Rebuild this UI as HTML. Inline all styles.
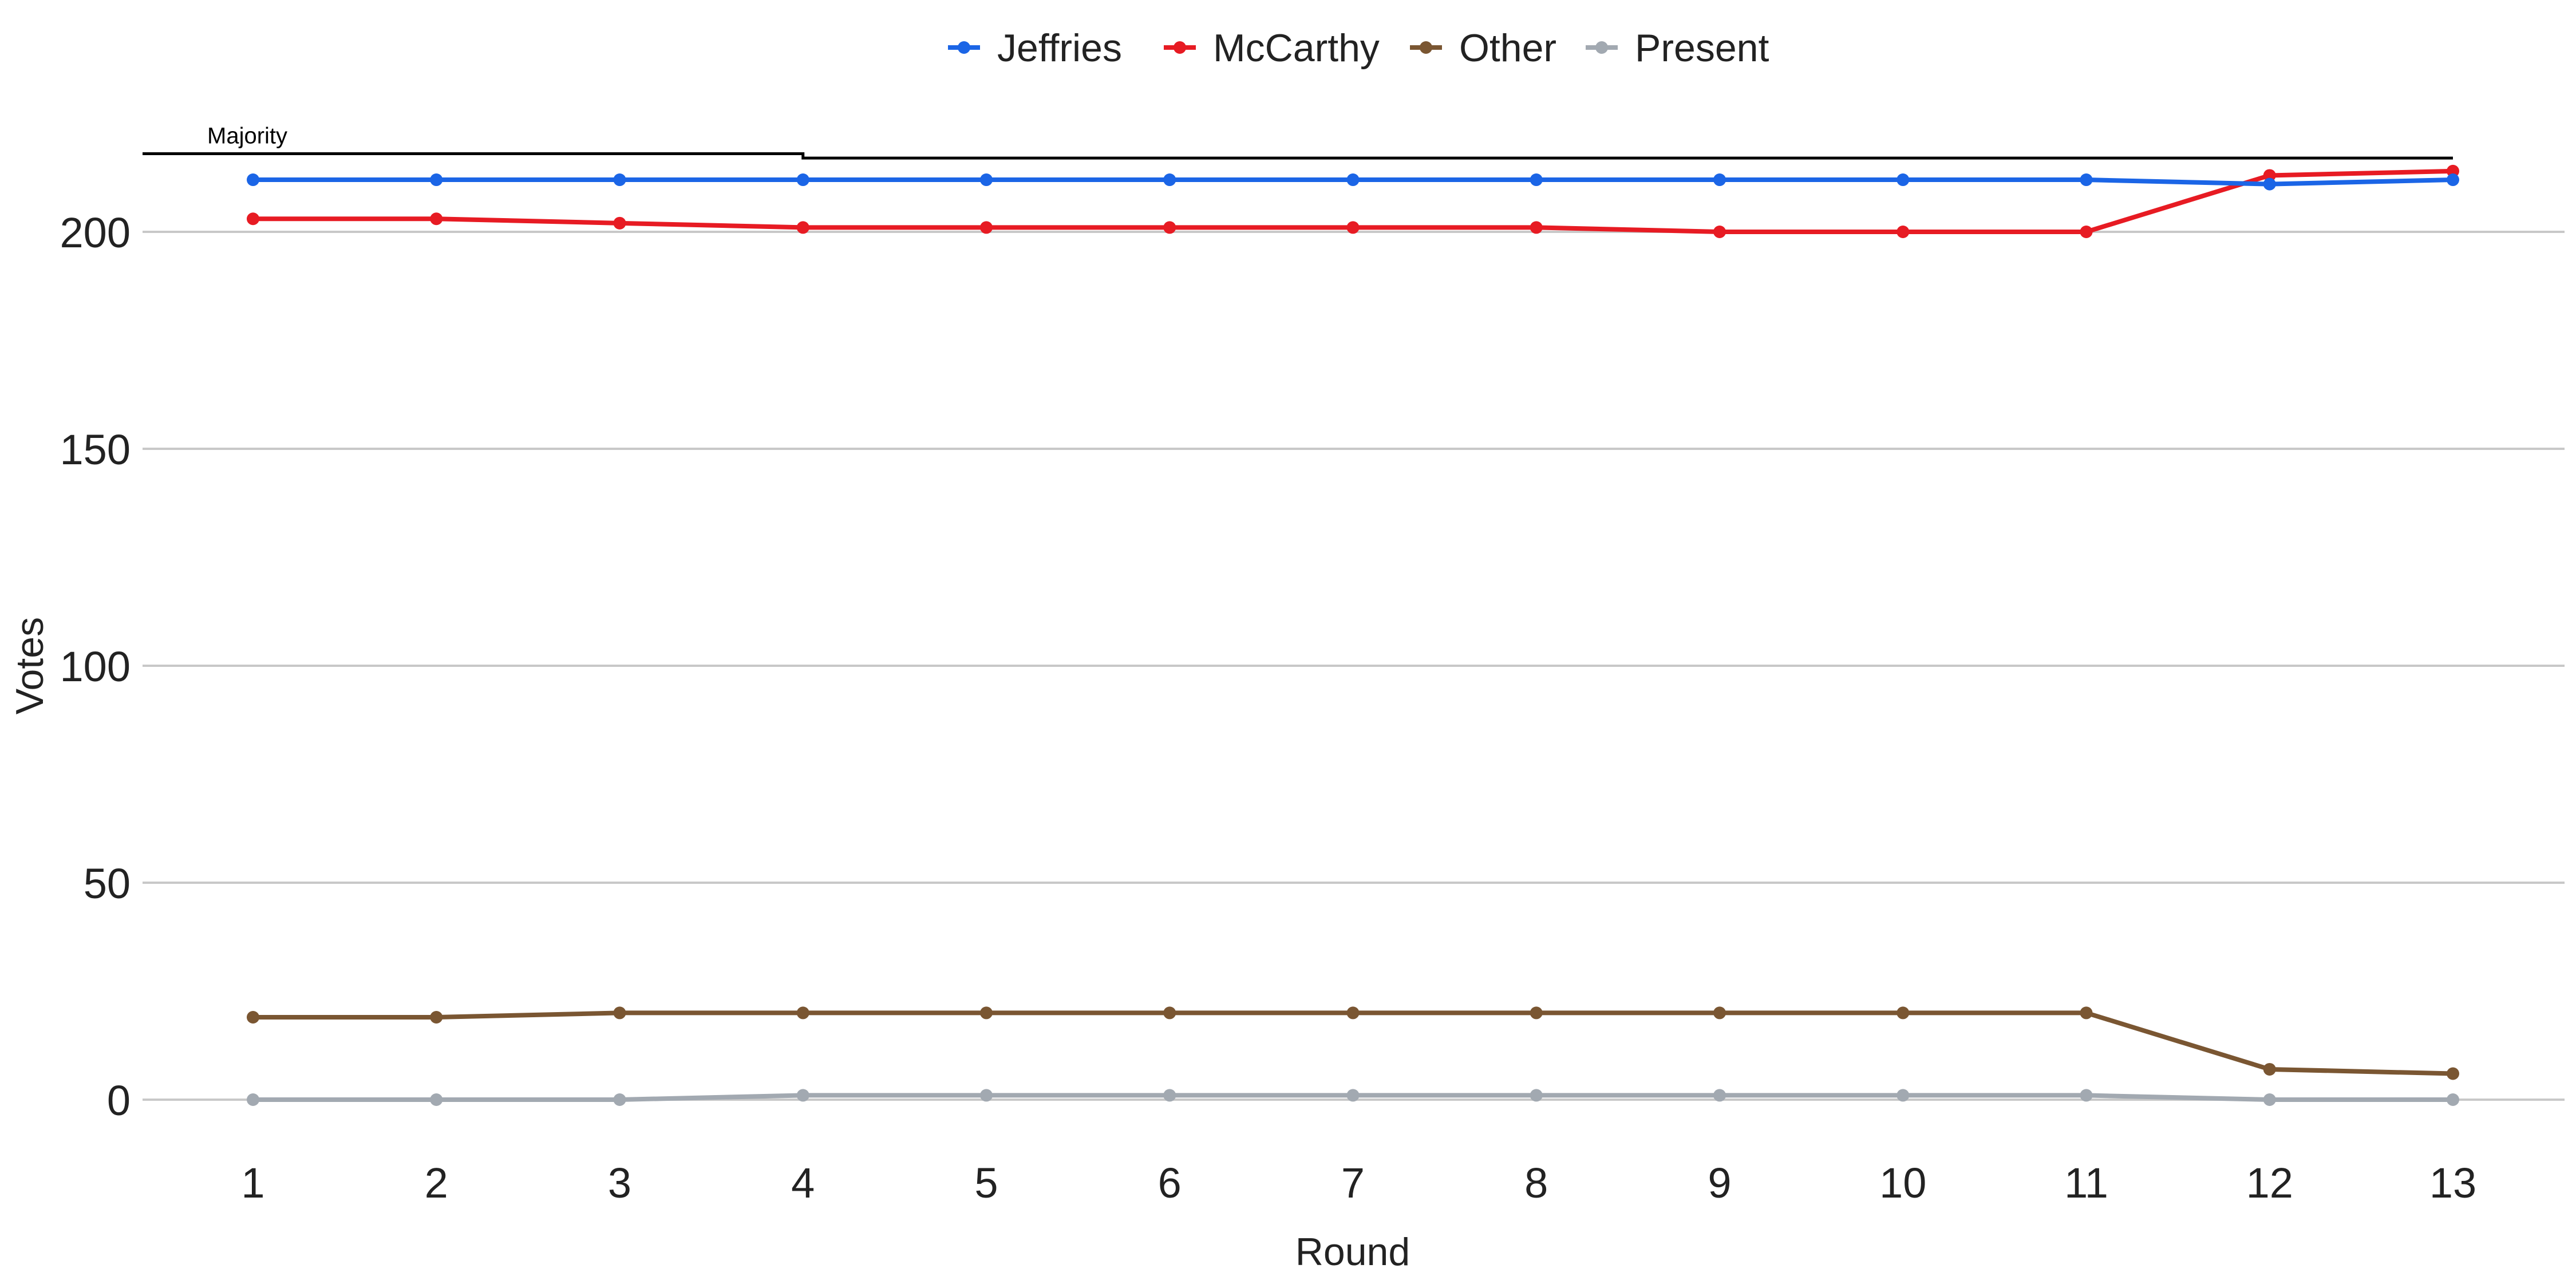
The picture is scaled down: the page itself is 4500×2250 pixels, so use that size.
<!DOCTYPE html>
<html><head><meta charset="utf-8"><style>
html,body{margin:0;padding:0;background:#fff}
svg{display:block;font-family:"Liberation Sans",Arial,sans-serif}
</style></head><body>
<svg id="chart" width="4500" height="2250" viewBox="0 0 4500 2250">
<g id="grid"></g>
<g id="yticks"></g>
<g id="xticks"></g>
<g id="majority"></g>
<g id="series"></g>
<g id="legend"></g>
<text x="2363" y="2210" font-size="68" fill="#222" text-anchor="middle">Round</text>
<text transform="translate(75,1163) rotate(-90)" font-size="68" fill="#222" text-anchor="middle">Votes</text>
</svg>
<script>
const rounds = [1,2,3,4,5,6,7,8,9,10,11,12,13];
const jeffries = [212,212,212,212,212,212,212,212,212,212,212,211,212];
const mccarthy = [203,203,202,201,201,201,201,201,200,200,200,213,214];
const other = [19,19,20,20,20,20,20,20,20,20,20,7,6];
const present = [0,0,0,1,1,1,1,1,1,1,1,0,0];
const majority = [218,218,218,217,217,217,217,217,217,217,217,217,217];
const yTicks = [0,50,100,150,200];
const seriesNames = ["Jeffries","McCarthy","Other","Present"];
const seriesColors = ["#1b65e6","#e71b23","#7a5632","#a2a9b1"];

const NS="http://www.w3.org/2000/svg";
const X=r=>442+(r-1)*320.25;
const Y=v=>1921-v*7.58;
function mk(tag,attrs,parent){const e=document.createElementNS(NS,tag);for(const k in attrs)e.setAttribute(k,attrs[k]);parent.appendChild(e);return e;}
const grid=document.getElementById('grid'),yt=document.getElementById('yticks'),xt=document.getElementById('xticks');
yTicks.forEach(v=>{
  const l=mk('line',{x1:249,x2:4480,y1:Y(v),y2:Y(v),stroke:'#c8c8c8','stroke-width':4},grid);
  
  
  const t=mk('text',{x:228,y:Y(v)+27,'font-size':74,fill:'#222','text-anchor':'end'},yt);
  t.textContent=v;
  
  
});
rounds.forEach(r=>{
  const t=mk('text',{x:X(r),y:2092,'font-size':74,fill:'#222','text-anchor':'middle'},xt);
  t.textContent=r;
  
  
});
// majority step line
const mj=document.getElementById('majority');
let d='M249 '+Y(majority[0]);
for(let i=0;i<rounds.length;i++){
  if(i>0&&majority[i]!==majority[i-1]){d+=' L'+X(rounds[i])+' '+Y(majority[i-1])+' L'+X(rounds[i])+' '+Y(majority[i]);}
}
d+=' L'+X(rounds[rounds.length-1])+' '+Y(majority[majority.length-1]);
const mp=mk('path',{d:d,fill:'none',stroke:'#000','stroke-width':5},mj);


const ml=mk('text',{x:362,y:Y(majority[0])-18,'font-size':40,fill:'#000'},mj);
ml.textContent='Majority';



const sg=document.getElementById('series');
[jeffries,mccarthy,other,present].reverse().forEach((vals,ri)=>{
  const i=3-ri;
  const g=mk('g',{},sg);
  
  
  const pts=vals.map((v,j)=>X(rounds[j])+','+Y(v)).join(' ');
  const pl=mk('polyline',{points:pts,fill:'none',stroke:seriesColors[i],'stroke-width':8,'stroke-linejoin':'round'},g);
  
  
  vals.forEach((v,j)=>{
    const c=mk('circle',{cx:X(rounds[j]),cy:Y(v),r:11,fill:seriesColors[i]},g);
    
    
  });
});
const lg=document.getElementById('legend');
const lx=[1684,2061,2491,2798];
seriesNames.forEach((n,i)=>{
  const g=mk('g',{},lg);
  
  
  mk('line',{x1:lx[i]-28,x2:lx[i]+28,y1:83,y2:83,stroke:seriesColors[i],'stroke-width':8},g);
  mk('circle',{cx:lx[i],cy:83,r:11,fill:seriesColors[i]},g);
  const t=mk('text',{x:lx[i]+58,y:107,'font-size':68,fill:'#222'},g);
  t.textContent=n;
});
</script>
</body></html>
